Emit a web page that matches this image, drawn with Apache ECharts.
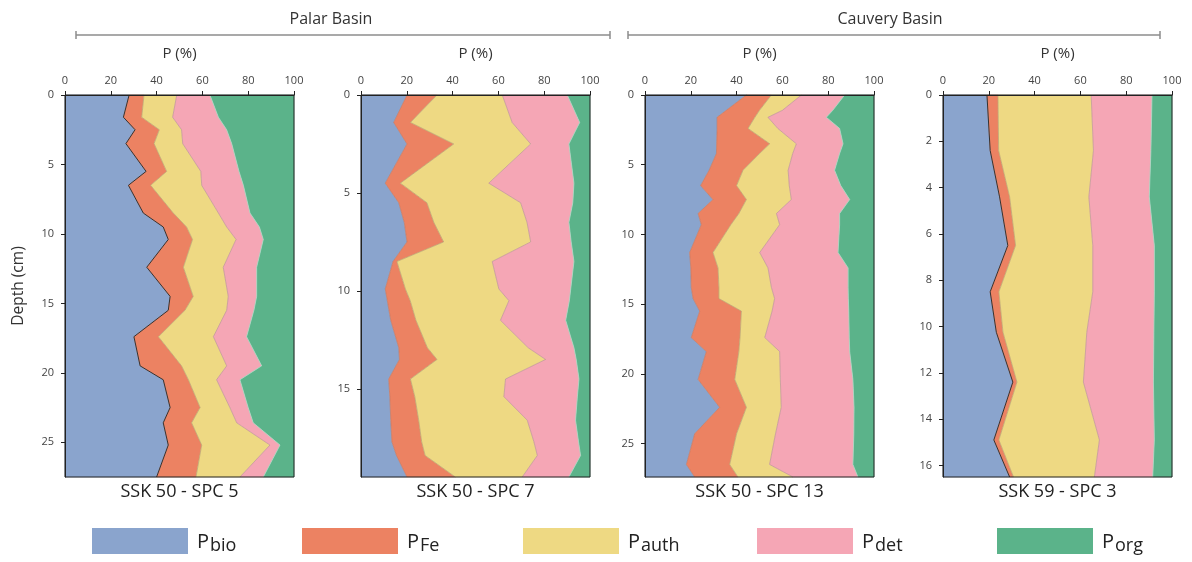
<!DOCTYPE html>
<html>
<head>
<meta charset="utf-8">
<script src="https://cdn.jsdelivr.net/npm/echarts@6.0.0/dist/echarts.min.js"></script>
<style>
  html, body { margin: 0; padding: 0; background: #fff; }
  #chart { width: 1192px; height: 562px; }
</style>
</head>
<body>
<div id="chart"></div>
<script>
// P fractions (%) per core
const names = ['Pbio', 'PFe', 'Pauth', 'Pdet', 'Porg'];
const subs = ['bio', 'Fe', 'auth', 'det', 'org'];
const colors = ['#8aa4cd', '#ec8262', '#eed983', '#f5a6b5', '#5bb38a'];

// SSK 50 - SPC 5
const spc5Depth = [0, 1.6, 2.5, 3.5, 5.5, 6.5, 8.5, 9.5, 10.4, 12.4, 14.5, 15.5, 17.4, 19.5, 20.5, 22.5, 23.6, 25.2, 27.5];
const spc5Bio  = [28, 25.5, 30.6, 26.6, 35.4, 27.7, 34.2, 42.9, 45.1, 35.7, 45.9, 45.1, 30.1, 32.8, 42.9, 45.9, 42.9, 45.1, 40];
const spc5Fe   = [6.5, 8.0, 10.6, 12.3, 9.0, 9.7, 13.1, 10.2, 10.6, 16.0, 10.1, 7.3, 10.7, 18.1, 11.0, 13.1, 12.4, 14.6, 17.2];
const spc5Auth = [14.3, 13.5, 9.7, 12.5, 14.9, 22.3, 19.7, 17.5, 19.0, 17.4, 15.3, 18.2, 24.0, 19.7, 12.3, 13.0, 19.7, 29.8, 19.2];
const spc5Det  = [14.5, 20.0, 19.7, 21.4, 16.7, 18.2, 13.8, 14.3, 11.9, 14.6, 12.4, 11.9, 14.5, 15.3, 10.2, 8.0, 7.2, 4.4, 10.2];
const spc5Org  = [36.7, 33.0, 29.4, 27.2, 24.0, 22.1, 19.2, 15.1, 13.4, 16.3, 16.3, 17.5, 20.7, 14.1, 23.6, 20.0, 17.8, 6.1, 13.4];

// SSK 50 - SPC 7
const spc7Depth = [0, 1.4, 2.5, 4.5, 5.5, 6.5, 7.5, 8.5, 9.9, 10.5, 11.5, 12.9, 13.5, 14.5, 15.4, 16.6, 17.7, 18.4, 19.5];
const spc7Bio  = [20.1, 14.3, 20.1, 10.6, 16.5, 18.9, 20.1, 14.0, 10.6, 11.5, 13.0, 16.5, 16.8, 12.1, 12.6, 13.0, 13.5, 15.5, 20.1];
const spc7Fe   = [13.1, 7.3, 20.4, 6.6, 12.3, 12.9, 16.0, 1.7, 8.8, 10.0, 11.0, 12.5, 16.4, 9.5, 10.9, 12.2, 13.0, 12.5, 21.1];
const spc7Auth = [28.5, 44.4, 33.6, 38.6, 40.9, 40.7, 38.0, 41.6, 40.8, 43.1, 36.9, 44.0, 47.4, 41.5, 38.9, 47.4, 49.0, 49.0, 29.2];
const spc7Det  = [28.4, 29.5, 16.7, 37.2, 22.8, 18.3, 17.7, 35.7, 31.4, 26.4, 28.5, 20.0, 13.4, 32.1, 32.1, 21.1, 19.5, 18.9, 20.4];
const spc7Org  = [9.9, 4.5, 9.2, 7.0, 7.5, 9.2, 8.2, 7.0, 8.4, 9.0, 10.6, 7.0, 6.0, 4.8, 5.5, 6.3, 5.0, 4.1, 9.2];

// SSK 50 - SPC 13
const spc13Depth = [0, 1.1, 1.6, 2.4, 3.5, 4.2, 5.4, 6.5, 7.5, 8.5, 9.3, 11.3, 12.4, 13.8, 14.6, 15.5, 17.4, 18.4, 20.4, 22.4, 24.3, 26.5, 27.4];
const spc13Bio  = [44.3, 35.5, 31.5, 31.5, 31.3, 31.2, 28.0, 24.3, 29.7, 23.2, 24.6, 19.5, 20.0, 20.2, 21.0, 23.9, 20.2, 26.8, 23.2, 32.6, 21.7, 18.1, 21.7];
const spc13Fe   = [10.9, 14.5, 16.5, 13.5, 23.2, 18.8, 14.8, 15.7, 14.6, 17.8, 12.9, 10.2, 11.9, 12.1, 11.3, 18.2, 21.3, 14.2, 16.0, 11.7, 18.3, 18.9, 18.9];
const spc13Auth = [13.1, 10.0, 5.7, 13.0, 11.6, 14.5, 19.7, 23.0, 19.6, 16.4, 21.3, 20.4, 21.8, 22.9, 24.3, 13.4, 10.8, 17.8, 19.9, 15.2, 17.0, 17.4, 24.0];
const spc13Det  = [18.9, 22.0, 25.5, 27.0, 20.4, 20.5, 20.3, 22.5, 25.5, 27.6, 26.2, 34.2, 35.0, 33.5, 32.2, 33.5, 36.9, 30.6, 31.7, 31.8, 34.2, 36.4, 28.4];
const spc13Org  = [12.8, 18.0, 20.8, 15.0, 13.5, 15.0, 17.2, 14.5, 10.6, 15.0, 15.0, 15.7, 11.3, 11.3, 11.2, 11.0, 10.8, 10.6, 9.2, 8.7, 8.8, 9.2, 7.0];

// SSK 59 - SPC 3
const spc3Depth = [0, 2.4, 4.4, 6.5, 8.5, 10.25, 12.4, 14.9, 16.5];
const spc3Bio  = [19.2, 20.6, 24.7, 28.3, 20.6, 23.3, 30.5, 22.2, 29.1];
const spc3Fe   = [4.8, 3.7, 4.4, 3.4, 3.8, 2.9, 1.8, 2.2, 1.7];
const spc3Auth = [40.7, 41.4, 34.6, 33.7, 41.0, 36.6, 29.0, 43.9, 35.3];
const spc3Det  = [26.6, 25.1, 26.4, 26.9, 26.9, 29.3, 30.6, 24.0, 25.5];
const spc3Org  = [8.7, 9.2, 9.9, 7.7, 7.7, 7.9, 8.1, 7.7, 8.4];

// axis ticks
const pTicks = [0, 20, 40, 60, 80, 100];
const depthTicks5 = [0, 5, 10, 15, 20, 25];
const depthTicks7 = [0, 5, 10, 15];
const depthTicks3 = [0, 2, 4, 6, 8, 10, 12, 14, 16];

const panels = [
  { title: 'SSK 50 - SPC 5', depth: spc5Depth, parts: [spc5Bio, spc5Fe, spc5Auth, spc5Det, spc5Org], maxDepth: 27.5, ticks: depthTicks5, left: 65, darkBio: true },
  { title: 'SSK 50 - SPC 7', depth: spc7Depth, parts: [spc7Bio, spc7Fe, spc7Auth, spc7Det, spc7Org], maxDepth: 19.5, ticks: depthTicks7, left: 361, darkBio: false },
  { title: 'SSK 50 - SPC 13', depth: spc13Depth, parts: [spc13Bio, spc13Fe, spc13Auth, spc13Det, spc13Org], maxDepth: 27.4, ticks: depthTicks5, left: 645, darkBio: false },
  { title: 'SSK 59 - SPC 3', depth: spc3Depth, parts: [spc3Bio, spc3Fe, spc3Auth, spc3Det, spc3Org], maxDepth: 16.5, ticks: depthTicks3, left: 943, darkBio: true }
];

const FONT = 'Open Sans';
const GRID_TOP = 95, GRID_W = 229, GRID_H = 382;
const legendLeft = [92, 302, 523, 757, 997];
const edgeColors = ['rgba(150,110,100,0.45)', 'rgba(140,120,100,0.55)', 'rgba(150,140,130,0.6)', 'rgba(255,255,255,0.55)'];

function cumulate(parts) {
  const cum = [];
  let run = parts[0].map(() => 0);
  for (const p of parts) {
    run = run.map((v, i) => v + p[i]);
    cum.push(run);
  }
  return cum;
}

function layerSeries(pi, k, lo, hi, depth) {
  const n = depth.length;
  return {
    type: 'custom',
    name: names[k],
    xAxisIndex: pi,
    yAxisIndex: pi,
    silent: true,
    itemStyle: { color: colors[k] },
    data: depth.map((d, i) => [lo[i], hi[i], d]),
    encode: { x: [0, 1], y: 2 },
    renderItem: function (params, api) {
      if (params.dataIndexInside !== 0) return null;
      const pts = [];
      for (let i = 0; i < n; i++) pts.push(api.coord([api.value(1, i), api.value(2, i)]));
      for (let i = n - 1; i >= 0; i--) pts.push(api.coord([api.value(0, i), api.value(2, i)]));
      return {
        type: 'polygon',
        shape: { points: pts },
        style: { fill: colors[k], stroke: colors[k], lineWidth: 0.5 }
      };
    }
  };
}

const grid = [], xAxis = [], yAxis = [], series = [], graphic = [];

panels.forEach(function (p, pi) {
  grid.push({
    left: p.left, top: GRID_TOP, width: GRID_W, height: GRID_H,
    show: true, borderColor: '#222', borderWidth: 1, backgroundColor: 'transparent', z: 4
  });
  xAxis.push({
    type: 'value', gridIndex: pi, position: 'top', min: 0, max: 100, interval: 20, z: 4,
    name: 'P (%)', nameLocation: 'middle', nameGap: 34,
    nameTextStyle: { fontSize: 15, color: '#333', fontFamily: FONT },
    axisLine: { show: true, lineStyle: { color: '#222', width: 1 } },
    axisTick: { show: true, length: 4, lineStyle: { color: '#222' } },
    axisLabel: { fontSize: 11, color: '#444', margin: 9, fontFamily: FONT, customValues: pTicks },
    splitLine: { show: false }
  });
  yAxis.push({
    type: 'value', gridIndex: pi, inverse: true, min: 0, max: p.maxDepth, z: 4,
    name: pi === 0 ? 'Depth (cm)' : '', nameLocation: 'middle', nameGap: 38,
    nameTextStyle: { fontSize: 15.5, color: '#333', fontFamily: FONT },
    axisLine: { show: true, lineStyle: { color: '#222', width: 1 } },
    axisTick: { show: true, length: 4, lineStyle: { color: '#222' }, customValues: p.ticks },
    axisLabel: { fontSize: 11, color: '#444', margin: 11, fontFamily: FONT, customValues: p.ticks },
    splitLine: { show: false }
  });

  const cum = cumulate(p.parts);
  const zeros = p.depth.map(() => 0);
  for (let k = 0; k < 5; k++) {
    series.push(layerSeries(pi, k, k === 0 ? zeros : cum[k - 1], cum[k], p.depth));
  }
  for (let k = 0; k < 4; k++) {
    const dark = k === 0 && p.darkBio;
    series.push({
      type: 'line', xAxisIndex: pi, yAxisIndex: pi, silent: true,
      symbol: 'none', z: 3,
      data: p.depth.map((d, i) => [cum[k][i], d]),
      lineStyle: { color: dark ? '#333' : edgeColors[k], width: dark ? 1 : 0.7 }
    });
  }

  graphic.push({
    type: 'text', x: p.left + GRID_W / 2, y: 492,
    style: { text: p.title, fill: '#222', font: '18px "' + FONT + '"', textAlign: 'center', textVerticalAlign: 'middle', align: 'center', verticalAlign: 'middle' }
  });
});

// basin brackets
function bracket(x1, x2, y, label, cx) {
  const st = { stroke: '#8c8c8c', lineWidth: 1.5 };
  graphic.push({ type: 'line', shape: { x1: x1, y1: y, x2: x2, y2: y }, style: st });
  graphic.push({ type: 'line', shape: { x1: x1, y1: y - 4, x2: x1, y2: y + 4 }, style: st });
  graphic.push({ type: 'line', shape: { x1: x2, y1: y - 4, x2: x2, y2: y + 4 }, style: st });
  graphic.push({
    type: 'text', x: cx, y: 19,
    style: { text: label, fill: '#333', font: '16px "' + FONT + '"', textAlign: 'center', textVerticalAlign: 'middle', align: 'center', verticalAlign: 'middle' }
  });
}
bracket(76, 610, 35, 'Palar Basin', 331);
bracket(628, 1160, 35, 'Cauvery Basin', 890);

const legend = names.map(function (n, k) {
  return {
    data: [n], left: legendLeft[k], top: 527, padding: 0,
    icon: 'rect', itemWidth: 96, itemHeight: 26, selectedMode: false,
    formatter: function () { return '{p|P}{s|' + subs[k] + '}'; },
    textStyle: {
      color: '#222', fontFamily: FONT,
      rich: {
        p: { fontSize: 20, lineHeight: 26, padding: [2, 0, 0, 4], fontFamily: FONT, color: '#222' },
        s: { fontSize: 18, lineHeight: 18, padding: [10, 0, 0, 1], fontFamily: FONT, color: '#222' }
      }
    }
  };
});

const chart = echarts.init(document.getElementById('chart'));
chart.setOption({
  animation: false,
  textStyle: { fontFamily: FONT },
  grid: grid,
  xAxis: xAxis,
  yAxis: yAxis,
  legend: legend,
  graphic: graphic,
  series: series
});
</script>
</body>
</html>
